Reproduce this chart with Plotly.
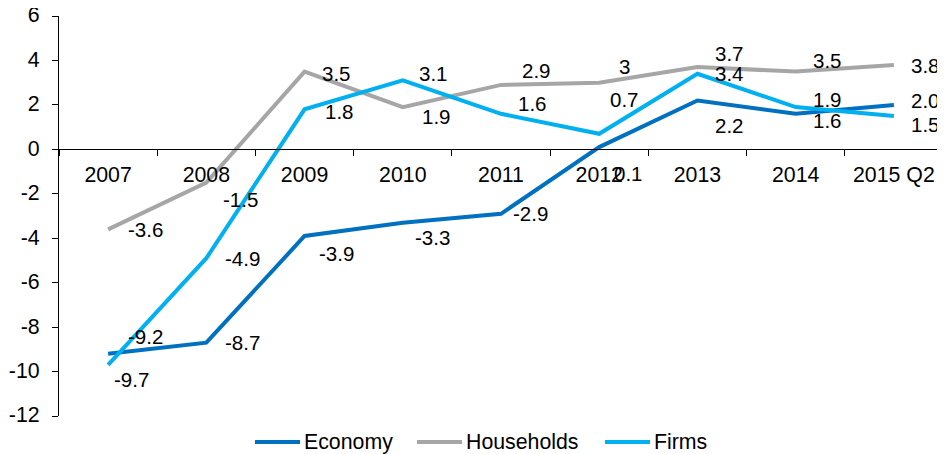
import plotly.graph_objects as go

categories = ["2007", "2008", "2009", "2010", "2011", "2012", "2013", "2014", "2015 Q2"]
economy = [-9.2, -8.7, -3.9, -3.3, -2.9, 0.1, 2.2, 1.6, 2.0]
households = [-3.6, -1.5, 3.5, 1.9, 2.9, 3.0, 3.7, 3.5, 3.8]
firms = [-9.7, -4.9, 1.8, 3.1, 1.6, 0.7, 3.4, 1.9, 1.5]

economy_labels = ["-9.2", "-8.7", "-3.9", "-3.3", "-2.9", "0.1", "2.2", "1.6", "2.0"]
households_labels = ["-3.6", "-1.5", "3.5", "1.9", "2.9", "3", "3.7", "3.5", "3.8"]
firms_labels = ["-9.7", "-4.9", "1.8", "3.1", "1.6", "0.7", "3.4", "1.9", "1.5"]

y_ticks = [-12, -10, -8, -6, -4, -2, 0, 2, 4, 6]
y_tick_labels = ["-12", "-10", "-8", "-6", "-4", "-2", "0", "2", "4", "6"]

# label pixel offsets (dx right, dy down) relative to each point
economy_off = [(37, -17), (36, 0), (32, 17), (30, 15), (29, 0), (29, 26), (32, 25), (32, 7), (32, -4)]
households_off = [(37, 0), (34, 17), (32, 2), (34, 9), (35, -14), (25, -16), (32, -14), (32, -11), (32, 1)]
firms_off = [(23, 15), (36, 0), (35, 2), (31, -7), (31, -10), (25, -34), (32, 0), (32, -8), (32, 8)]

FONT = "Liberation Sans, Arial, sans-serif"
FS_AXIS = 21.3
FS_LABEL = 20.5
series = [
    ("Economy", economy, economy_labels, economy_off, "#0070C0"),
    ("Households", households, households_labels, households_off, "#A6A6A6"),
    ("Firms", firms, firms_labels, firms_off, "#00B0F0"),
]
# the page body adds an 8px margin; the figure is sized to fit inside the window
PLOT_W = 884
legend_x = [(255 - 59) / PLOT_W, (417 - 59) / PLOT_W, (605 - 59) / PLOT_W]
legend_y = -0.065
legend_len = 45 / PLOT_W

fig = go.Figure()
annotations = []
shapes = []
for (name, vals, labs, offs, color), lx in zip(series, legend_x):
    fig.add_trace(go.Scatter(x=categories, y=vals, mode="lines", name=name,
                             line=dict(color=color, width=4), showlegend=False))
    for i, (v, t, (dx, dy)) in enumerate(zip(vals, labs, offs)):
        annotations.append(dict(x=i, y=v, xref="x", yref="y", text=t, showarrow=False,
                                xshift=dx, yshift=-dy,
                                font=dict(family=FONT, size=FS_LABEL, color="#000000")))
    shapes.append(dict(type="line", xref="paper", yref="paper", x0=lx, x1=lx + legend_len,
                       y0=legend_y, y1=legend_y, line=dict(color=color, width=4)))
    annotations.append(dict(x=lx + legend_len + 2 / PLOT_W, y=legend_y, xref="paper",
                            yref="paper", text=name, showarrow=False, xanchor="left",
                            yanchor="middle",
                            font=dict(family=FONT, size=FS_AXIS, color="#000000")))

fig.update_layout(
    width=937, height=446,
    margin=dict(l=51, r=2, t=8, b=38, autoexpand=False),
    paper_bgcolor="white", plot_bgcolor="white",
    font=dict(family=FONT, size=FS_AXIS, color="#000000"),
    showlegend=False,
    annotations=annotations,
    shapes=shapes,
    xaxis=dict(type="category", anchor="free", position=12 / 18, showline=True,
               linecolor="#000000", linewidth=1.2, ticks="outside", tickson="boundaries",
               ticklen=6, tickcolor="#000000", tickwidth=1.2, showgrid=False, zeroline=False,
               range=[-0.5, len(categories) - 0.5], ticklabelstandoff=6,
               ticklabeloverflow="allow", automargin=False),
    yaxis=dict(range=[-12, 6], tickvals=y_ticks, ticktext=y_tick_labels, showline=True,
               linecolor="#000000", linewidth=1.2, ticks="outside", ticklen=6,
               tickcolor="#000000", tickwidth=1.2, showgrid=False, zeroline=False,
               domain=[0, 1], ticklabelstandoff=8, ticklabelshift=-1,
               ticklabeloverflow="allow", automargin=False),
)

fig.write_html("out.html")
